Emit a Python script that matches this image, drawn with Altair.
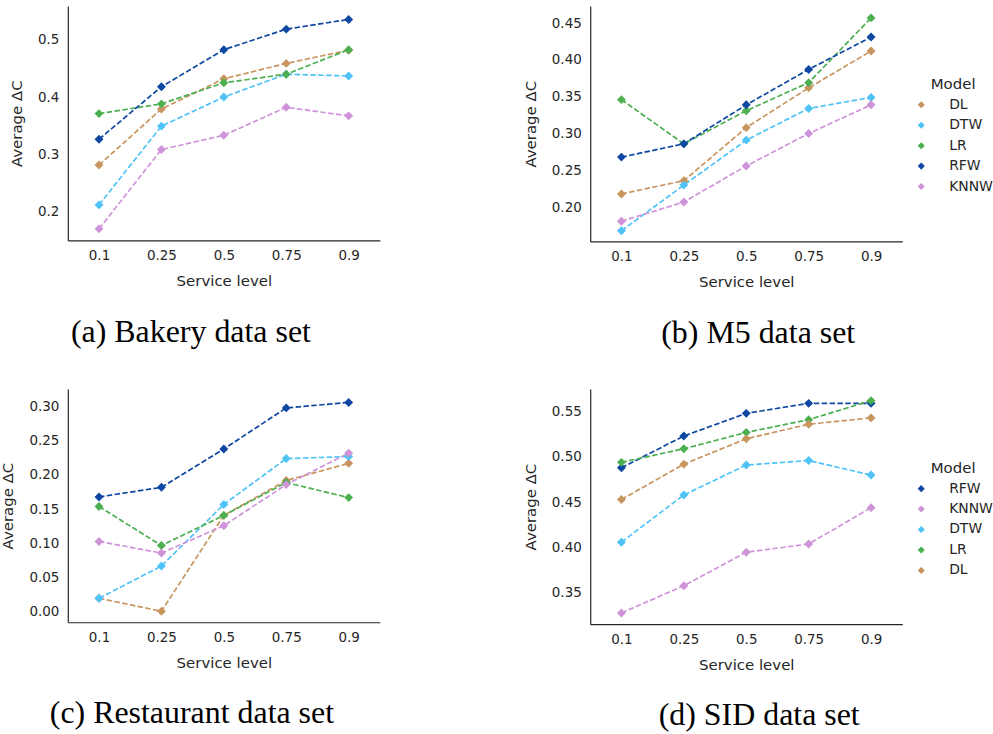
import altair as alt
import pandas as pd

LEVELS = ["0.1", "0.25", "0.5", "0.75", "0.9"]

# (a) Bakery
BAKERY_DL = [0.281, 0.379, 0.432, 0.459, 0.482]
BAKERY_DTW = [0.211, 0.349, 0.400, 0.440, 0.437]
BAKERY_LR = [0.371, 0.388, 0.425, 0.440, 0.483]
BAKERY_RFW = [0.326, 0.418, 0.483, 0.519, 0.536]
BAKERY_KNNW = [0.169, 0.308, 0.333, 0.382, 0.367]

# (b) M5
M5_DL = [0.218, 0.236, 0.308, 0.362, 0.412]
M5_DTW = [0.168, 0.230, 0.291, 0.334, 0.349]
M5_LR = [0.346, 0.286, 0.331, 0.369, 0.457]
M5_RFW = [0.268, 0.286, 0.339, 0.387, 0.431]
M5_KNNW = [0.181, 0.207, 0.256, 0.300, 0.339]

# (c) Restaurant
REST_DL = [0.020, 0.001, 0.141, 0.192, 0.217]
REST_DTW = [0.020, 0.067, 0.157, 0.224, 0.227]
REST_LR = [0.154, 0.097, 0.141, 0.189, 0.167]
REST_RFW = [0.168, 0.182, 0.238, 0.298, 0.306]
REST_KNNW = [0.103, 0.086, 0.126, 0.186, 0.232]

# (d) SID
SID_RFW = [0.488, 0.523, 0.548, 0.559, 0.559]
SID_KNNW = [0.328, 0.358, 0.395, 0.404, 0.444]
SID_DTW = [0.406, 0.458, 0.491, 0.496, 0.480]
SID_LR = [0.494, 0.509, 0.527, 0.541, 0.562]
SID_DL = [0.453, 0.492, 0.520, 0.536, 0.543]

COLORS = {
    "DL": "#c8955f",
    "DTW": "#4fc3f7",
    "LR": "#4caf50",
    "RFW": "#0d47a1",
    "KNNW": "#ce93d8",
}

TXT = "#262626"


def make_df(series):
    rows = []
    for model, vals in series:
        for i, (lv, v) in enumerate(zip(LEVELS, vals)):
            rows.append({"model": model, "level": lv, "idx": i, "value": v})
    return pd.DataFrame(rows)


def make_legend(legend_y):
    return alt.Legend(orient="none", legendX=325, legendY=legend_y,
                      title="Model", symbolType="diamond", symbolSize=50,
                      symbolStrokeWidth=0, labelOffset=21, titleAnchor="middle",
                      rowPadding=6.5, titlePadding=6, labelFontSize=14,
                      titleFontSize=15, titleFontWeight="normal", labelColor=TXT,
                      titleColor=TXT, labelFont="DejaVu Sans", titleFont="DejaVu Sans")


def panel(series, domain, ticks, fmt, height, caption, dx, legend_y=None):
    df = make_df(series)
    order = [m for m, _ in series]
    cscale = alt.Scale(domain=order, range=[COLORS[m] for m in order])
    x = alt.X("level:N", sort=LEVELS,
              scale=alt.Scale(type="point", padding=0.5),
              axis=alt.Axis(title="Service level", labelAngle=0,
                            labelPadding=8, titlePadding=12))
    y = alt.Y("value:Q",
              scale=alt.Scale(domain=domain, nice=False, zero=False),
              axis=alt.Axis(title="Average ΔC", values=ticks, format=fmt,
                            labelPadding=9, titlePadding=13))
    if legend_y is not None:
        leg_line = make_legend(legend_y)
        leg_pts = make_legend(legend_y)
    else:
        leg_line = None
        leg_pts = None
    line = alt.Chart(df).mark_line(strokeDash=[5.5, 2.4], strokeWidth=1.7).encode(
        x=x, y=y, order=alt.Order("idx:Q"),
        color=alt.Color("model:N", scale=cscale, legend=leg_line),
    )
    pts = alt.Chart(df).mark_point(shape="diamond", filled=True, size=80, opacity=1,
                                   strokeWidth=0).encode(
        x=x, y=y,
        color=alt.Color("model:N", scale=cscale, legend=leg_pts),
    )
    return alt.layer(line, pts).properties(
        width=313, height=height,
        title=alt.TitleParams(caption, orient="bottom", anchor="middle", frame="group",
                              dx=dx, offset=28, font="Liberation Serif", fontSize=32,
                              fontWeight="normal", color="black"),
    )


a = panel([("DL", BAKERY_DL), ("DTW", BAKERY_DTW), ("LR", BAKERY_LR),
           ("RFW", BAKERY_RFW), ("KNNW", BAKERY_KNNW)],
          [0.1488, 0.5594], [0.2, 0.3, 0.4, 0.5], ".1f", 235,
          "(a) Bakery data set", -33)
b = panel([("DL", M5_DL), ("DTW", M5_DTW), ("LR", M5_LR),
           ("RFW", M5_RFW), ("KNNW", M5_KNNW)],
          [0.1536, 0.4730], [0.20, 0.25, 0.30, 0.35, 0.40, 0.45], ".2f", 236,
          "(b) M5 data set", 12, legend_y=71)
c = panel([("DL", REST_DL), ("DTW", REST_DTW), ("LR", REST_LR),
           ("RFW", REST_RFW), ("KNNW", REST_KNNW)],
          [-0.0150, 0.3257], [0.0, 0.05, 0.10, 0.15, 0.20, 0.25, 0.30], ".2f", 234,
          "(c) Restaurant data set", -32)
d = panel([("RFW", SID_RFW), ("KNNW", SID_KNNW), ("DTW", SID_DTW),
           ("LR", SID_LR), ("DL", SID_DL)],
          [0.3156, 0.5749], [0.35, 0.40, 0.45, 0.50, 0.55], ".2f", 236,
          "(d) SID data set", 13, legend_y=72)

chart = alt.concat(a, b, c, d, columns=2, bounds="flush",
                   spacing={"row": 148, "column": 211}).resolve_scale(
    color="independent"
).properties(
    padding={"left": 0, "top": 5, "right": 0, "bottom": 0},
    background="white",
).configure_view(stroke=None).configure_axis(
    grid=False, ticks=False, domainColor=TXT, domainWidth=1.2,
    labelColor=TXT, titleColor=TXT, labelFont="DejaVu Sans", titleFont="DejaVu Sans",
    labelFontSize=13.5, titleFontSize=15, titleFontWeight="normal",
)

chart.save("out.html", embed_options={"renderer": "svg", "actions": False})
